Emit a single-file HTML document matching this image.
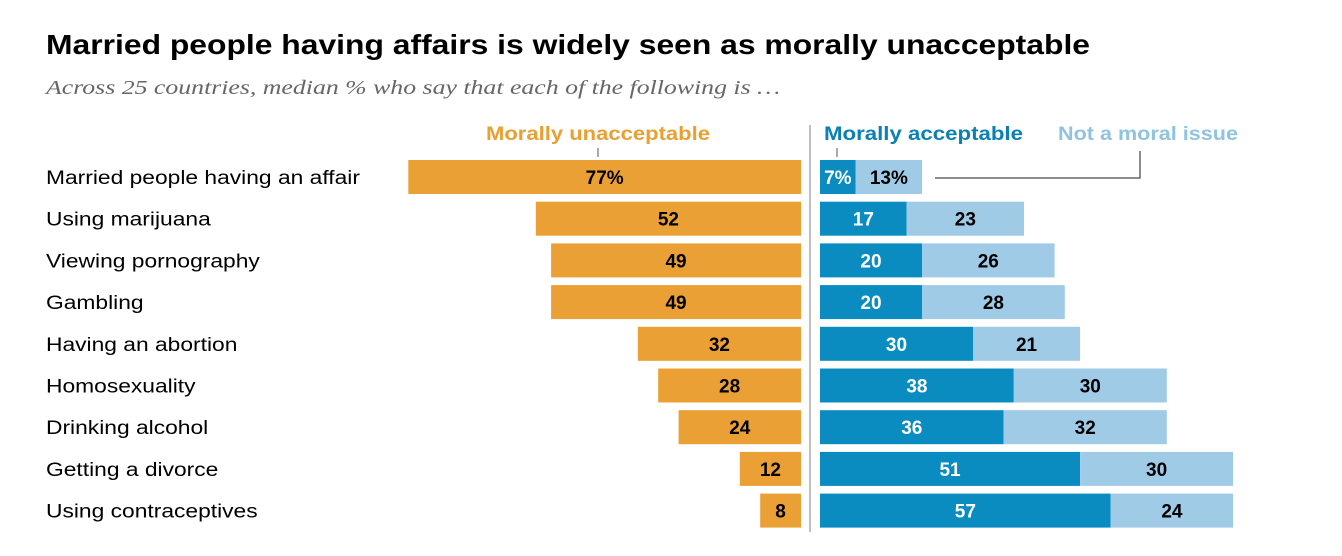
<!DOCTYPE html>
<html><head><meta charset="utf-8"><style>
body{margin:0;background:#fff;width:1342px;height:551px;overflow:hidden;font-family:"Liberation Sans",sans-serif}
</style></head><body>
<svg width="1342" height="551" id="c">
<text x="46" y="54" font-size="28" font-weight="bold" fill="#000" textLength="1044" lengthAdjust="spacingAndGlyphs">Married people having affairs is widely seen as morally unacceptable</text>
<text x="46" y="94" font-size="20" font-style="italic" fill="#666" font-family="Liberation Serif,serif" textLength="734" lengthAdjust="spacingAndGlyphs">Across 25 countries, median % who say that each of the following is …</text>
<text x="486" y="140" font-size="19" font-weight="bold" fill="#E8A033" textLength="224" lengthAdjust="spacingAndGlyphs">Morally unacceptable</text>
<text x="824" y="140" font-size="19" font-weight="bold" fill="#0B80B4" textLength="199" lengthAdjust="spacingAndGlyphs">Morally acceptable</text>
<text x="1058" y="140" font-size="19" font-weight="bold" fill="#8FC3E0" textLength="180" lengthAdjust="spacingAndGlyphs">Not a moral issue</text>
<line x1="598" y1="148" x2="598" y2="157" stroke="#555"/>
<line x1="837" y1="148" x2="837" y2="157" stroke="#555"/>
<polyline points="935,178 1140,178 1140,151" fill="none" stroke="#666" stroke-width="1.5"/>
<line x1="810" y1="125" x2="810" y2="532" stroke="#aaa" stroke-width="1.5"/>
</svg>
<script>
const categories=["Married people having an affair","Using marijuana","Viewing pornography","Gambling","Having an abortion","Homosexuality","Drinking alcohol","Getting a divorce","Using contraceptives"];
const unacceptable=[77,52,49,49,32,28,24,12,8];
const acceptable=[7,17,20,20,30,38,36,51,57];
const notMoral=[13,23,26,28,21,30,32,30,24];
const svg=document.getElementById('c');
const NS='http://www.w3.org/2000/svg';
const k=5.1, leftEnd=801, rightStart=820, top0=160, step=41.7, h=34;
function xs(v){return v*k;}
function rowY(i){return top0+i*step;}
function mk(t,a,txt){const e=document.createElementNS(NS,t);for(const n in a)e.setAttribute(n,a[n]);if(txt!==undefined)e.textContent=txt;svg.appendChild(e);return e;}
function widen(e,f){const l=e.getComputedTextLength();e.setAttribute('textLength',l*f);e.setAttribute('lengthAdjust','spacingAndGlyphs');}
categories.forEach((c,i)=>{
 const y=rowY(i),cy=y+h/2+7,pct=i===0?'%':'';
 let e=mk('text',{x:46,y:cy,'font-size':19,fill:'#000'},c);
 
 
 widen(e,1.2);
 const w=xs(unacceptable[i]);
 e=mk('rect',{x:leftEnd-w,y:y,width:w,height:h,fill:'#EAA034'});
 
 
 e=mk('text',{x:leftEnd-w/2,y:cy,'font-size':19,'font-weight':'bold','text-anchor':'middle',fill:'#000'},unacceptable[i]+pct);
 
 
 const wa=xs(acceptable[i]);
 e=mk('rect',{x:rightStart,y:y,width:wa,height:h,fill:'#0B8CC1'});
 
 
 e=mk('text',{x:rightStart+wa/2,y:cy,'font-size':19,'font-weight':'bold','text-anchor':'middle',fill:'#fff'},acceptable[i]+pct);
 
 
 const wn=xs(notMoral[i]);
 e=mk('rect',{x:rightStart+wa,y:y,width:wn,height:h,fill:'#9FCBE6'});
 
 
 e=mk('text',{x:rightStart+wa+wn/2,y:cy,'font-size':19,'font-weight':'bold','text-anchor':'middle',fill:'#000'},notMoral[i]+pct);
 
 
});
</script>
</body></html>
